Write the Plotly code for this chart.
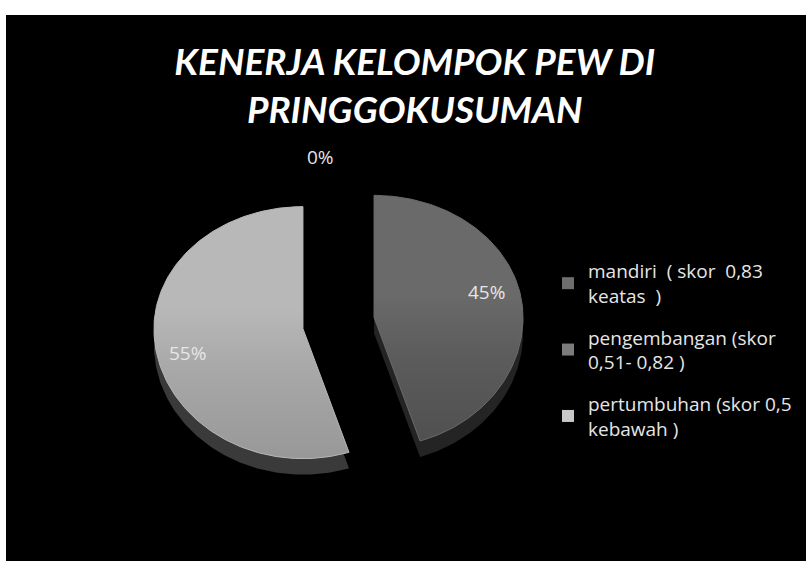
import math
import plotly.graph_objects as go

# ---- data ----
categories = ["mandiri  ( skor  0,83<br>keatas  )",
              "pengembangan (skor<br>0,51- 0,82 )",
              "pertumbuhan (skor 0,5<br>kebawah )"]
shares = [0, 45, 55]
title_text = "KENERJA KELOMPOK PEW DI<br>PRINGGOKUSUMAN"

# ---- styling ----
top_light = ["#7a7a7a", "#6a6a6a", "#b8b8b8"]
top_mid = ["#666666", "#5c5c5c", "#a8a8a8"]
top_dark = ["#555555", "#505050", "#989898"]
wall = ["#222222", "#242424", "#3a3a3a"]
legend_colors = ["#6e6e6e", "#7c7c7c", "#c8c8c8"]
label_pos = [(320, 157), (486, 292), (187, 353)]

CX, CY = 338.5, 323      # pie centre
RX, RY_UP, RY_DOWN = 149, 122, 130
PULL = 36
DEPTH = 16


def slice_outline(start, end, cx, cy):
    """Outline of an elliptical pie slice; angles in degrees clockwise from 12 o'clock."""
    n = max(2, int(end - start) + 2)
    xs, ys = [cx], [cy]
    for i in range(n):
        a = math.radians(start + (end - start) * i / (n - 1))
        ry = RY_UP if math.cos(a) > 0 else RY_DOWN
        xs.append(cx + RX * math.sin(a))
        ys.append(cy - ry * math.cos(a))
    xs.append(cx)
    ys.append(cy)
    return xs, ys


fig = go.Figure()
total = sum(shares)
angle = 0
for name, share, c1, cm, c2, w, lc, pos in zip(categories, shares, top_light, top_mid, top_dark, wall, legend_colors, label_pos):
    sweep = 360 * share / total
    if share > 0:
        mid = math.radians(angle + sweep / 2)
        cx = CX + PULL * math.sin(mid)
        cy = CY - PULL * math.cos(mid)
        xs, ys = slice_outline(angle, angle + sweep, cx, cy)
        fig.add_trace(go.Scatter(x=xs, y=[v + DEPTH for v in ys], mode="lines", fill="toself",
                                 fillcolor=w, line=dict(width=0, color=w),
                                 showlegend=False, hoverinfo="skip"))
        fig.add_trace(go.Scatter(x=xs, y=ys, mode="lines", fill="toself",
                                 fillgradient=dict(type="vertical",
                                                   colorscale=[[0, c2], [0.35, cm], [0.6, c1], [1, c1]]),
                                 line=dict(width=1, color=c1),
                                 showlegend=False, hoverinfo="skip"))
    angle += sweep
    fig.add_annotation(x=pos[0], y=pos[1], text=f"{share}%", showarrow=False,
                       font=dict(family="Open Sans", size=19, color="#e6e6e6"))
    fig.add_trace(go.Scatter(x=[None], y=[None], mode="markers", name=name, legendgroup=name,
                             marker=dict(symbol="square", size=12, color=lc)))

fig.update_layout(
    width=806, height=561,
    margin=dict(l=6, r=0, t=15, b=0),
    paper_bgcolor="white", plot_bgcolor="black",
    xaxis=dict(range=[6, 806], visible=False, fixedrange=True),
    yaxis=dict(range=[561, 15], visible=False, fixedrange=True),
    title=dict(text=title_text, x=0.511, xref="paper", xanchor="center", y=0.866, yanchor="middle",
               font=dict(family="Lato", size=37, color="white", weight="bold", style="italic")),
    legend=dict(x=0.6775, y=0.566, xanchor="left", yanchor="top", bgcolor="rgba(0,0,0,0)",
                font=dict(family="Open Sans", size=19, color="#e6e6e6"),
                tracegroupgap=14, itemwidth=30),
)
fig.write_html("out.html", config={"displayModeBar": False},
               post_script="document.body.style.margin='0';")
